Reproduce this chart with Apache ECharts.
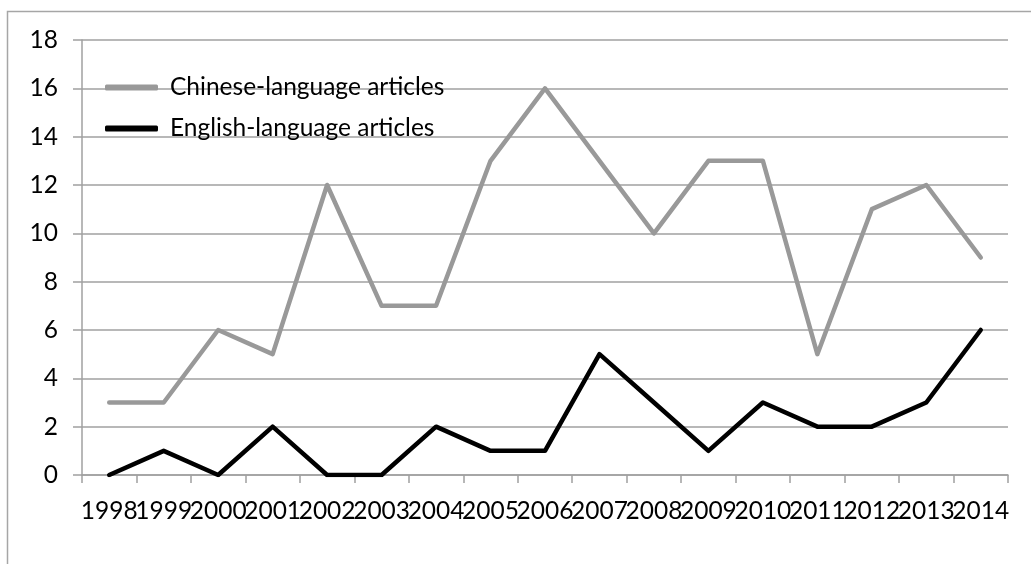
<!DOCTYPE html>
<html><head><meta charset="utf-8">
<script src="https://cdn.jsdelivr.net/npm/echarts@6/dist/echarts.min.js"></script>
<style>html,body{margin:0;padding:0;background:#fff}#c{width:1031px;height:564px}</style>
</head><body><div id="c"></div>
<script>
var years = ['1998','1999','2000','2001','2002','2003','2004','2005','2006','2007','2008','2009','2010','2011','2012','2013','2014'];
var chinese = [3,3,6,5,12,7,7,13,16,13,10,13,13,5,11,12,9];
var english = [0,1,0,2,0,0,2,1,1,5,3,1,3,2,2,3,6];
var yTicks = [0,2,4,6,8,10,12,14,16,18];

var FONT = 'Lato';
var FS = 24.5;
var chart = echarts.init(document.getElementById('c'), null, {renderer:'canvas'});
chart.setOption({
  animation:false,
  backgroundColor:'#fff',
  graphic:[{type:'rect', shape:{x:7.5,y:11.5,width:1100,height:700}, style:{fill:'none', stroke:'#a6a6a6', lineWidth:1.5}, silent:true}],
  grid:{left:82, top:40, right:23, bottom:89, containLabel:false},
  legend:{
    orient:'vertical', left:105, top:74, itemGap:14, padding:0,
    icon:'roundRect', itemWidth:53, itemHeight:6,
    textStyle:{fontFamily:FONT, fontSize:FS, color:'#000', lineHeight:27, padding:[0,0,0,7]},
    data:['Chinese-language articles','English-language articles']
  },
  xAxis:{
    type:'category', data:years, boundaryGap:true,
    axisLine:{show:true, lineStyle:{color:'#a0a0a0', width:1.5}},
    axisTick:{show:true, length:8, lineStyle:{color:'#a0a0a0', width:1.5}},
    axisLabel:{interval:0, fontFamily:FONT, fontSize:FS, color:'#000', margin:24}
  },
  yAxis:{
    type:'value', min:yTicks[0], max:yTicks[yTicks.length-1], interval:2,
    axisLine:{show:true, lineStyle:{color:'#a0a0a0', width:1.5}},
    axisTick:{show:true, length:9, lineStyle:{color:'#a0a0a0', width:1.5}},
    axisLabel:{fontFamily:FONT, fontSize:FS, color:'#000', margin:24},
    splitLine:{show:true, lineStyle:{color:'#a0a0a0', width:1.5}}
  },
  series:[
    {name:'Chinese-language articles', type:'line', data:chinese, symbol:'none', color:'#999999',
     lineStyle:{color:'#999999', width:4.5, cap:'round', join:'round'}},
    {name:'English-language articles', type:'line', data:english, symbol:'none', color:'#000000',
     lineStyle:{color:'#000000', width:4.5, cap:'round', join:'round'}}
  ]
});
</script></body></html>
